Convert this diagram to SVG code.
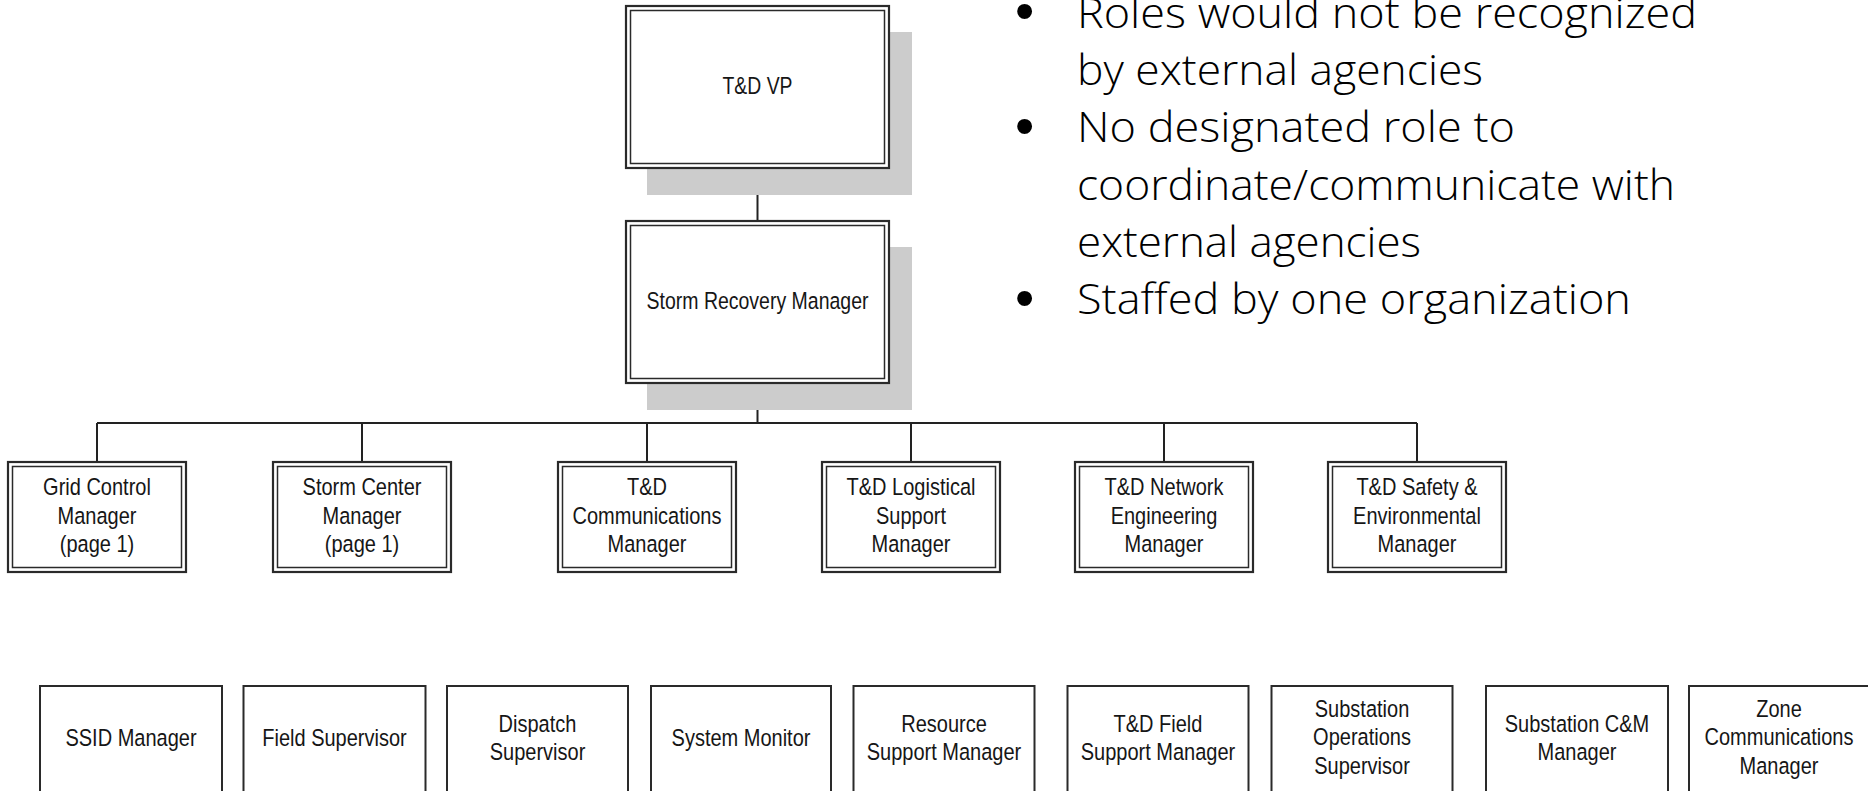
<svg xmlns="http://www.w3.org/2000/svg" width="1868" height="791" viewBox="0 0 1868 791">
<style>
.shadow{fill:#cccccc}
.outer{fill:#ffffff;stroke:#2a2a2a;stroke-width:2.2}
.inner{fill:none;stroke:#2a2a2a;stroke-width:1.5}
.single{fill:#ffffff;stroke:#2a2a2a;stroke-width:2}
.conn{fill:none;stroke:#222222;stroke-width:2}
.lbl{font-family:"Liberation Sans Narrow","Liberation Sans",Arial,sans-serif;font-size:24.5px;fill:#161616;text-anchor:middle}
.bul{font-family:"Open Sans","Noto Sans","DejaVu Sans",sans-serif;font-size:43px;font-weight:300;fill:#000000}
.dot{font-family:"Liberation Sans",Arial,sans-serif;font-size:55px;fill:#000000}
</style>
<rect width="1868" height="791" fill="#ffffff"/>

<g id="connectors">
<line class="conn" x1="757.5" y1="168" x2="757.5" y2="221"/>
<line class="conn" x1="757.5" y1="383" x2="757.5" y2="423"/>
<line class="conn" x1="97" y1="423" x2="1417" y2="423"/>
<line class="conn" x1="97" y1="423" x2="97" y2="462"/>
<line class="conn" x1="362" y1="423" x2="362" y2="462"/>
<line class="conn" x1="647" y1="423" x2="647" y2="462"/>
<line class="conn" x1="911" y1="423" x2="911" y2="462"/>
<line class="conn" x1="1164" y1="423" x2="1164" y2="462"/>
<line class="conn" x1="1417" y1="423" x2="1417" y2="462"/>
</g>

<g id="node-td-vp">
<rect class="shadow" x="647" y="32" width="265" height="163"/>
<rect class="outer" x="626" y="6" width="263" height="162"/>
<rect class="inner" x="630.5" y="10.5" width="254" height="153"/>
<text class="lbl" x="757.5" y="94" textLength="70" lengthAdjust="spacingAndGlyphs">T&amp;D VP</text>
</g>

<g id="node-storm-recovery-manager">
<rect class="shadow" x="647" y="247" width="265" height="163"/>
<rect class="outer" x="626" y="221" width="263" height="162"/>
<rect class="inner" x="630.5" y="225.5" width="254" height="153"/>
<text class="lbl" x="757.5" y="309" textLength="222" lengthAdjust="spacingAndGlyphs">Storm Recovery Manager</text>
</g>

<g id="node-grid-control">
<rect class="outer" x="8" y="462" width="178" height="110"/>
<rect class="inner" x="12.5" y="466.5" width="169" height="101"/>
<text class="lbl" x="97" y="495" textLength="107.8" lengthAdjust="spacingAndGlyphs">Grid Control</text>
<text class="lbl" x="97" y="524" textLength="78.9" lengthAdjust="spacingAndGlyphs">Manager</text>
<text class="lbl" x="97" y="552" textLength="74.5" lengthAdjust="spacingAndGlyphs">(page 1)</text>
</g>

<g id="node-storm-center">
<rect class="outer" x="273" y="462" width="178" height="110"/>
<rect class="inner" x="277.5" y="466.5" width="169" height="101"/>
<text class="lbl" x="362" y="495" textLength="118.9" lengthAdjust="spacingAndGlyphs">Storm Center</text>
<text class="lbl" x="362" y="524" textLength="78.9" lengthAdjust="spacingAndGlyphs">Manager</text>
<text class="lbl" x="362" y="552" textLength="74.5" lengthAdjust="spacingAndGlyphs">(page 1)</text>
</g>

<g id="node-td-communications">
<rect class="outer" x="558" y="462" width="178" height="110"/>
<rect class="inner" x="562.5" y="466.5" width="169" height="101"/>
<text class="lbl" x="647" y="495" textLength="40" lengthAdjust="spacingAndGlyphs">T&amp;D</text>
<text class="lbl" x="647" y="524" textLength="148.9" lengthAdjust="spacingAndGlyphs">Communications</text>
<text class="lbl" x="647" y="552" textLength="78.9" lengthAdjust="spacingAndGlyphs">Manager</text>
</g>

<g id="node-td-logistical">
<rect class="outer" x="822" y="462" width="178" height="110"/>
<rect class="inner" x="826.5" y="466.5" width="169" height="101"/>
<text class="lbl" x="911" y="495" textLength="128.9" lengthAdjust="spacingAndGlyphs">T&amp;D Logistical</text>
<text class="lbl" x="911" y="524" textLength="70" lengthAdjust="spacingAndGlyphs">Support</text>
<text class="lbl" x="911" y="552" textLength="78.9" lengthAdjust="spacingAndGlyphs">Manager</text>
</g>

<g id="node-td-network">
<rect class="outer" x="1075" y="462" width="178" height="110"/>
<rect class="inner" x="1079.5" y="466.5" width="169" height="101"/>
<text class="lbl" x="1164" y="495" textLength="118.9" lengthAdjust="spacingAndGlyphs">T&amp;D Network</text>
<text class="lbl" x="1164" y="524" textLength="106.7" lengthAdjust="spacingAndGlyphs">Engineering</text>
<text class="lbl" x="1164" y="552" textLength="78.9" lengthAdjust="spacingAndGlyphs">Manager</text>
</g>

<g id="node-td-safety">
<rect class="outer" x="1328" y="462" width="178" height="110"/>
<rect class="inner" x="1332.5" y="466.5" width="169" height="101"/>
<text class="lbl" x="1417" y="495" textLength="121.2" lengthAdjust="spacingAndGlyphs">T&amp;D Safety &amp;</text>
<text class="lbl" x="1417" y="524" textLength="127.8" lengthAdjust="spacingAndGlyphs">Environmental</text>
<text class="lbl" x="1417" y="552" textLength="78.9" lengthAdjust="spacingAndGlyphs">Manager</text>
</g>

<g id="node-ssid-manager">
<rect class="single" x="40" y="686" width="182" height="112"/>
<text class="lbl" x="131" y="746" textLength="131.2" lengthAdjust="spacingAndGlyphs">SSID Manager</text>
</g>

<g id="node-field-supervisor">
<rect class="single" x="243.5" y="686" width="182" height="112"/>
<text class="lbl" x="334.5" y="746" textLength="144.5" lengthAdjust="spacingAndGlyphs">Field Supervisor</text>
</g>

<g id="node-dispatch-supervisor">
<rect class="single" x="447" y="686" width="181" height="112"/>
<text class="lbl" x="537.5" y="732" textLength="77.8" lengthAdjust="spacingAndGlyphs">Dispatch</text>
<text class="lbl" x="537.5" y="760" textLength="95.6" lengthAdjust="spacingAndGlyphs">Supervisor</text>
</g>

<g id="node-system-monitor">
<rect class="single" x="651" y="686" width="180" height="112"/>
<text class="lbl" x="741" y="746" textLength="138.9" lengthAdjust="spacingAndGlyphs">System Monitor</text>
</g>

<g id="node-resource-support">
<rect class="single" x="853.5" y="686" width="181" height="112"/>
<text class="lbl" x="944" y="732" textLength="85.6" lengthAdjust="spacingAndGlyphs">Resource</text>
<text class="lbl" x="944" y="760" textLength="154.5" lengthAdjust="spacingAndGlyphs">Support Manager</text>
</g>

<g id="node-td-field-support">
<rect class="single" x="1067.5" y="686" width="181" height="112"/>
<text class="lbl" x="1158" y="732" textLength="88.9" lengthAdjust="spacingAndGlyphs">T&amp;D Field</text>
<text class="lbl" x="1158" y="760" textLength="154.5" lengthAdjust="spacingAndGlyphs">Support Manager</text>
</g>

<g id="node-substation-operations">
<rect class="single" x="1271.5" y="686" width="181" height="112"/>
<text class="lbl" x="1362" y="717" textLength="94.5" lengthAdjust="spacingAndGlyphs">Substation</text>
<text class="lbl" x="1362" y="745" textLength="97.8" lengthAdjust="spacingAndGlyphs">Operations</text>
<text class="lbl" x="1362" y="774" textLength="95.6" lengthAdjust="spacingAndGlyphs">Supervisor</text>
</g>

<g id="node-substation-cm">
<rect class="single" x="1486" y="686" width="182" height="112"/>
<text class="lbl" x="1577" y="732" textLength="144.5" lengthAdjust="spacingAndGlyphs">Substation C&amp;M</text>
<text class="lbl" x="1577" y="760" textLength="78.9" lengthAdjust="spacingAndGlyphs">Manager</text>
</g>

<g id="node-zone-communications">
<rect class="single" x="1689" y="686" width="182" height="112"/>
<text class="lbl" x="1779" y="717" textLength="45.6" lengthAdjust="spacingAndGlyphs">Zone</text>
<text class="lbl" x="1779" y="745" textLength="148.9" lengthAdjust="spacingAndGlyphs">Communications</text>
<text class="lbl" x="1779" y="774" textLength="78.9" lengthAdjust="spacingAndGlyphs">Manager</text>
</g>

<g id="bullets">
<text class="dot" x="1015" y="30">•</text>
<text class="bul" x="1077" y="27.5" textLength="620" lengthAdjust="spacingAndGlyphs">Roles would not be recognized</text>
<text class="bul" x="1077" y="84.9" textLength="406" lengthAdjust="spacingAndGlyphs">by external agencies</text>
<text class="dot" x="1015" y="144.7">•</text>
<text class="bul" x="1077" y="142.2" textLength="438" lengthAdjust="spacingAndGlyphs">No designated role to</text>
<text class="bul" x="1077" y="199.6" textLength="598" lengthAdjust="spacingAndGlyphs">coordinate/communicate with</text>
<text class="bul" x="1077" y="256.9" textLength="344" lengthAdjust="spacingAndGlyphs">external agencies</text>
<text class="dot" x="1015" y="316.8">•</text>
<text class="bul" x="1077" y="314.3" textLength="554" lengthAdjust="spacingAndGlyphs">Staffed by one organization</text>
</g>
</svg>
